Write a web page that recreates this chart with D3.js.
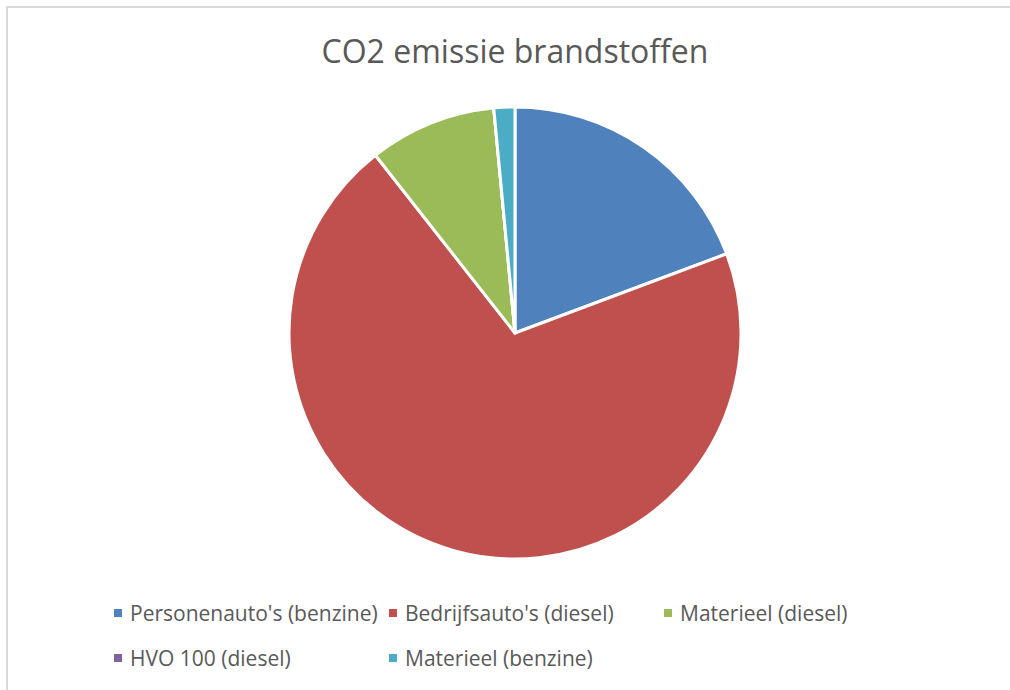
<!DOCTYPE html>
<html>
<head>
<meta charset="utf-8">
<script src="https://cdn.jsdelivr.net/npm/d3@7"></script>
<style>
	body {margin:0; background:#fff;}
	text {font-family:"Open Sans", "Noto Sans", sans-serif; fill:#595959;}
</style>
</head>
<body>
<script>
var Categories = ["Personenauto's (benzine)", "Bedrijfsauto's (diesel)", "Materieel (diesel)", "HVO 100 (diesel)", "Materieel (benzine)"];
var Values = [19.3, 70.1, 9.1, 0, 1.5];
var Colors = ["#4f81bd", "#c0504d", "#9bbb59", "#8064a2", "#4bacc6"];
var Title = "CO2 emissie brandstoffen";

var W = 1010, H = 690;
var svg = d3.select("body").append("svg").attr("width",W).attr("height",H);

//chart area border (runs off the right and bottom)
svg.append("rect").attr("x",7).attr("y",7).attr("width",W).attr("height",H)
	.attr("fill","#fff").attr("stroke","#d9d9d9").attr("stroke-width",2);

svg.append("text").attr("x",515).attr("y",63).attr("text-anchor","middle")
	.style("font-size","32px").text(Title);

var Data = Categories.map(function(c,i) {return {name:c, value:Values[i], color:Colors[i]};});
var pie = d3.pie().sort(null).value(function(d) {return d.value;});
var arc = d3.arc().innerRadius(0).outerRadius(226);

var g = svg.append("g").attr("transform","translate(515,333)");
g.selectAll("path").data(pie(Data)).enter().append("path")
	.attr("d",arc)
	.attr("fill",function(d) {return d.data.color;})
	.attr("stroke","#fff").attr("stroke-width",3).attr("stroke-linejoin","round");

//legend, three per row
var LegendX = [114, 389, 664], LegendY = [621, 666];
var leg = svg.selectAll("g.leg").data(Data).enter().append("g").attr("class","leg")
	.attr("transform",function(d,i) {return "translate(" + LegendX[i%3] + "," + LegendY[Math.floor(i/3)] + ")";});
leg.append("rect").attr("x",0).attr("y",-12).attr("width",8).attr("height",8)
	.attr("fill",function(d) {return d.color;});
leg.append("text").attr("x",16).attr("y",0).style("font-size","21px")
	.text(function(d) {return d.name;});
</script>
</body>
</html>
